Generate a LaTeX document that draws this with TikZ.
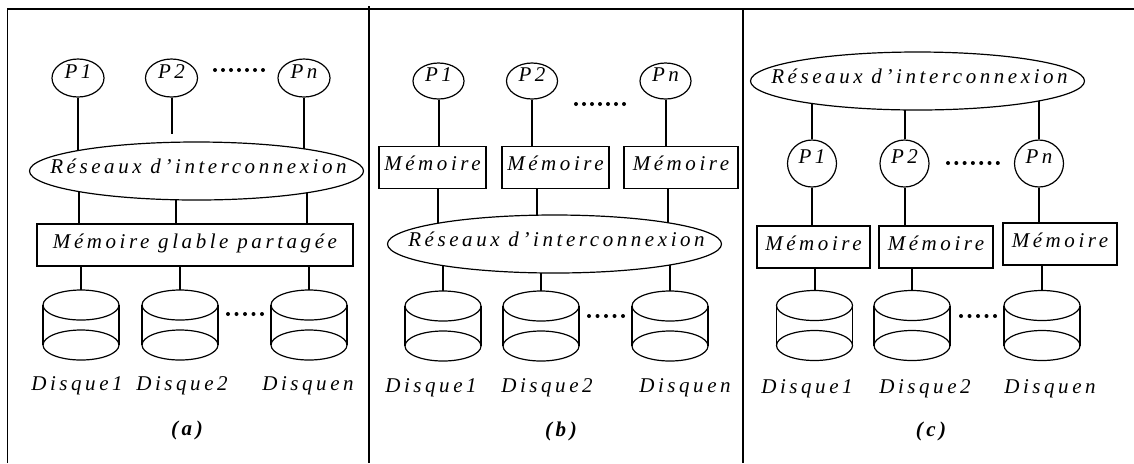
\documentclass[tikz,border=0pt]{standalone}
\usepackage{fontspec}
\setmainfont{Liberation Serif}
\newfontfamily\spaced[LetterSpace=17]{Liberation Serif}
\usetikzlibrary{shapes.geometric}
\pgfdeclarelayer{bg}
\pgfsetlayers{bg,main}

\tikzset{
  lbl/.style={font=\spaced\itshape\fontsize{10.5}{12}\selectfont},
  cpu/.style={ellipse, draw, line width=0.6pt, fill=white, inner sep=0pt,
              text height=3pt, text depth=3pt, lbl},
  net/.style={ellipse, draw, line width=0.6pt, fill=white, inner sep=0pt,
              minimum width=167pt, minimum height=29pt},
  mem/.style={rectangle, draw, line width=0.6pt, fill=white, inner sep=0pt,
              minimum height=21pt, text height=7pt, text depth=4pt, lbl},
  link/.style={line width=1pt},
  frame/.style={line width=0.9pt},
  sublbl/.style={font=\spaced\bfseries\itshape\fontsize{10.5}{12}\selectfont},
  disk/.pic={
    \draw[line width=0.6pt] (0,0) ellipse [x radius=19pt, y radius=7.5pt];
    \draw[line width=0.6pt] (0,40) ellipse [x radius=19pt, y radius=7.5pt];
    \draw[line width=0.6pt] (-38,0) -- (-38,40) (38,0) -- (38,40);
    \coordinate (-top) at (0,-15);
  }
}

\begin{document}
\begin{tikzpicture}[x=0.5pt, y=-0.5pt]
\useasboundingbox (0,0) rectangle (1134,463);
\begin{pgfonlayer}{bg}
  \fill[white] (0,0) rectangle (1134,463);
\end{pgfonlayer}

% frame
\draw[frame] (7.5,463) -- (7.5,9) -- (1134,9);
\draw[frame] (369,6) -- (369,463);
\draw[frame] (743,9) -- (743,463);

% ---------------- (a) shared memory ----------------
\node[cpu, minimum width=26pt, minimum height=19pt] (aP1) at (78,78) {P1};
\node[cpu, minimum width=26pt, minimum height=19pt] (aP2) at (171.5,78) {P2};
\node[cpu, minimum width=26pt, minimum height=19pt] (aPn) at (304,78) {Pn};
\foreach \i in {0,...,6} \fill ({215+8*\i},70) circle (1pt);
\node[net] (aNet) at (196.5,171) {};
\node[lbl, anchor=base] (aNetT) at (198.5,173) {Réseaux d’interconnexion};
\node[mem, minimum width=158pt] (aMem) at (195,245) {Mémoire glable partagée};
\pic (ad1) at (81,305) {disk};
\pic (ad2) at (180,305) {disk};
\pic (adn) at (309,305) {disk};
\foreach \i in {0,...,4} \fill ({228+8.5*\i},314) circle (1pt);
\node[lbl, anchor=base] (aL1) at (77,390) {Disque1};
\node[lbl, anchor=base] (aL2) at (182,390) {Disque2};
\node[lbl, anchor=base] (aLn) at (308,390) {Disquen};
\node[sublbl] (aCap) at (187,430) {(a)};

\begin{pgfonlayer}{bg}
  \draw[link] (aP1) -- (aP1 |- aNet);
  \draw[link, shorten >=3.5pt] (aP2) -- (aP2 |- aNet.north);
  \draw[link] (aPn) -- (aPn |- aNet);
  \draw[link] ([xshift=-1pt]ad1-top |- aNet) -- ([xshift=-1pt]ad1-top |- aMem.north);
  \draw[link] ([xshift=-2pt]ad2-top |- aNet) -- ([xshift=-2pt]ad2-top |- aMem.north);
  \draw[link] ([xshift=-1pt]adn-top |- aNet) -- ([xshift=-1pt]adn-top |- aMem.north);
  \draw[link] (ad1-top |- aMem.south) -- (ad1-top);
  \draw[link] (ad2-top |- aMem.south) -- (ad2-top);
  \draw[link] (adn-top |- aMem.south) -- (adn-top);
\end{pgfonlayer}

% ---------------- (b) shared disk ----------------
\node[cpu, minimum width=25.5pt, minimum height=18pt] (bP1) at (438.5,81) {P1};
\node[cpu, minimum width=25.5pt, minimum height=18pt] (bP2) at (532,81) {P2};
\node[cpu, minimum width=25.5pt, minimum height=18pt] (bPn) at (665.5,81) {Pn};
\foreach \i in {0,...,6} \fill ({576+8*\i},104) circle (1pt);
\node[mem, minimum width=53.5pt] (bM1) at (432.5,167.5) {Mémoire};
\node[mem, minimum width=53.5pt] (bM2) at (555.5,167.5) {Mémoire};
\node[mem, minimum width=57pt] (bMn) at (681,167.5) {Mémoire};
\node[net] (bNet) at (554.5,244) {};
\node[lbl, anchor=base] (bNetT) at (556.5,246) {Réseaux d’interconnexion};
\pic (bd1) at (443,306) {disk};
\pic (bd2) at (541,306) {disk};
\pic (bdn) at (670,306) {disk};
\foreach \i in {0,...,4} \fill ({589+8.5*\i},316) circle (1pt);
\node[lbl, anchor=base] (bL1) at (431,392) {Disque1};
\node[lbl, anchor=base] (bL2) at (547,392) {Disque2};
\node[lbl, anchor=base] (bLn) at (685,392) {Disquen};
\node[sublbl] (bCap) at (561,431) {(b)};

\begin{pgfonlayer}{bg}
  \draw[link] (bP1) -- (bP1 |- bM1.north);
  \draw[link] (bP2) -- (bP2 |- bM2.north);
  \draw[link] (bPn) -- (bPn |- bMn.north);
  \draw[link] ([xshift=-0.5pt]bP1 |- bM1.south) -- ([xshift=-0.5pt]bP1 |- bNet);
  \draw[link] ([xshift=2.5pt]bP2 |- bM2.south) -- ([xshift=2.5pt]bP2 |- bNet);
  \draw[link] ([xshift=1pt]bPn |- bMn.south) -- ([xshift=1pt]bPn |- bNet);
  \draw[link] (bd1-top |- bNet) -- (bd1-top);
  \draw[link] (bd2-top |- bNet) -- (bd2-top);
  \draw[link] (bdn-top |- bNet) -- (bdn-top);
\end{pgfonlayer}

% ---------------- (c) shared nothing ----------------
\node[net] (cNet) at (917.5,81) {};
\node[lbl, anchor=base] (cNetT) at (919.5,83) {Réseaux d’interconnexion};
\node[cpu, minimum width=24.5pt, minimum height=23.5pt] (cP1) at (812,163.5) {P1};
\node[cpu, minimum width=24.5pt, minimum height=23.5pt] (cP2) at (904.5,163.5) {P2};
\node[cpu, minimum width=24.5pt, minimum height=23.5pt] (cPn) at (1039,163.5) {Pn};
\foreach \i in {0,...,6} \fill ({948+8.3*\i},163) circle (1pt);
\node[mem, minimum width=56.5pt] (cM1) at (813.5,247) {Mémoire};
\node[mem, minimum width=57pt] (cM2) at (936,247) {Mémoire};
\node[mem, minimum width=57pt] (cMn) at (1060,244) {Mémoire};
\pic (cd1) at (814.5,305.5) {disk};
\pic (cd2) at (912,305.5) {disk};
\pic (cdn) at (1042,305.5) {disk};
\foreach \i in {0,...,4} \fill ({961+8.5*\i},316) circle (1pt);
\node[lbl, anchor=base] (cL1) at (807,393) {Disque1};
\node[lbl, anchor=base] (cL2) at (925,393) {Disque2};
\node[lbl, anchor=base] (cLn) at (1050,393) {Disquen};
\node[sublbl] (cCap) at (931,431) {(c)};

\begin{pgfonlayer}{bg}
  \draw[link] (cP1 |- cNet) -- (cP1);
  \draw[link] (cP2 |- cNet) -- (cP2);
  \draw[link] (cPn |- cNet) -- (cPn);
  \draw[link] (cP1) -- (cP1 |- cM1.north);
  \draw[link] (cP2) -- (cP2 |- cM2.north);
  \draw[link] (cPn) -- (cPn |- cMn.north);
  \draw[link] (cd1-top |- cM1.south) -- (cd1-top);
  \draw[link] (cd2-top |- cM2.south) -- (cd2-top);
  \draw[link] (cdn-top |- cMn.south) -- (cdn-top);
\end{pgfonlayer}
\end{tikzpicture}
\end{document}
